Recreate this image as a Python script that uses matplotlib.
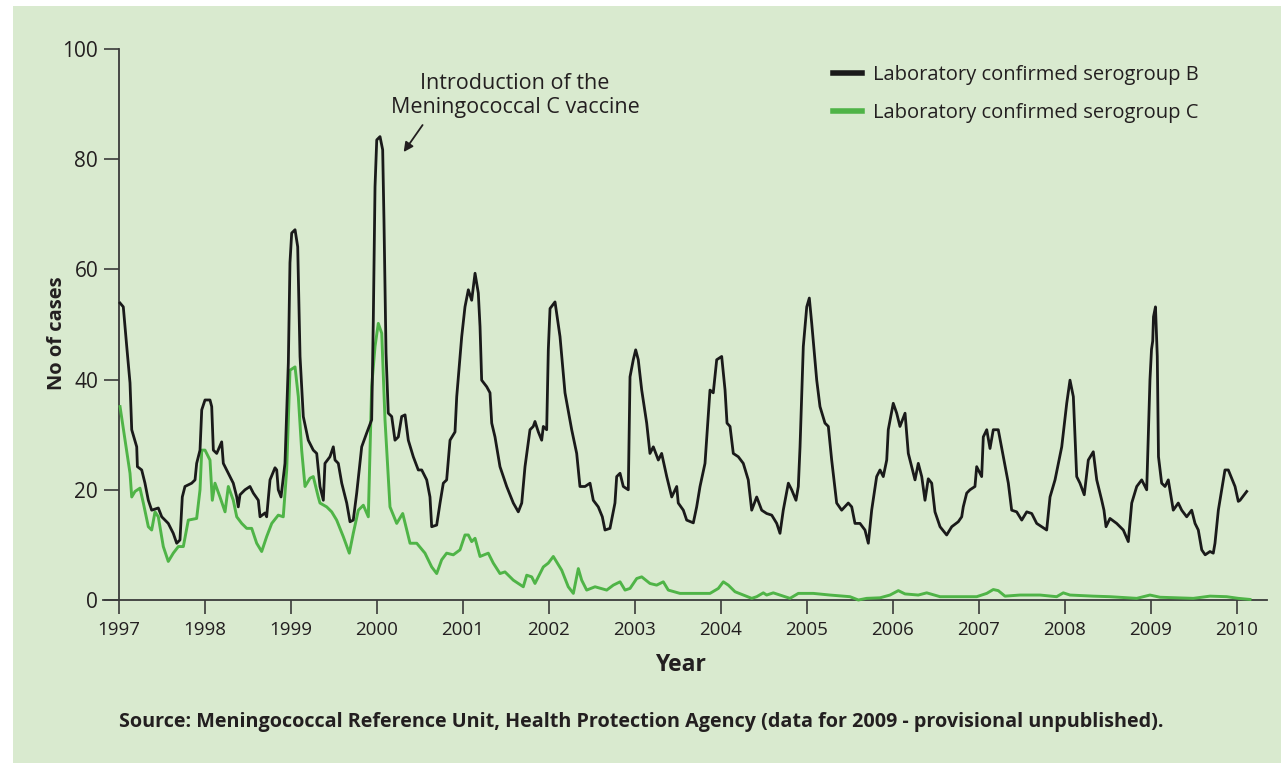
import matplotlib
matplotlib.use("Agg")
import matplotlib.pyplot as plt
from matplotlib.patches import Rectangle

# ---- data (decimal years, number of cases) ----
b_year = [1997.012, 1997.050, 1997.090, 1997.128, 1997.148, 1997.206, 1997.214, 1997.264, 1997.302, 1997.341,
          1997.380, 1997.457, 1997.497, 1997.573, 1997.631, 1997.671, 1997.709, 1997.736, 1997.767, 1997.845,
          1997.884, 1997.903, 1997.942, 1997.962, 1998.000, 1998.058, 1998.078, 1998.097, 1998.136, 1998.194,
          1998.213, 1998.271, 1998.329, 1998.369, 1998.387, 1998.407, 1998.465, 1998.523, 1998.562, 1998.620,
          1998.640, 1998.698, 1998.717, 1998.756, 1998.814, 1998.834, 1998.852, 1998.884, 1998.930, 1998.969,
          1998.988, 1999.008, 1999.047, 1999.078, 1999.105, 1999.143, 1999.201, 1999.259, 1999.299, 1999.337,
          1999.376, 1999.395, 1999.453, 1999.492, 1999.512, 1999.550, 1999.590, 1999.648, 1999.686, 1999.724,
          1999.764, 1999.822, 1999.880, 1999.938, 1999.957, 1999.977, 1999.997, 2000.035, 2000.066, 2000.081,
          2000.105, 2000.131, 2000.171, 2000.209, 2000.248, 2000.287, 2000.326, 2000.364, 2000.422, 2000.480,
          2000.520, 2000.578, 2000.616, 2000.636, 2000.694, 2000.733, 2000.771, 2000.810, 2000.849, 2000.907,
          2000.927, 2000.985, 2001.023, 2001.062, 2001.101, 2001.140, 2001.178, 2001.198, 2001.217, 2001.276,
          2001.314, 2001.334, 2001.372, 2001.430, 2001.508, 2001.585, 2001.643, 2001.683, 2001.721, 2001.779,
          2001.817, 2001.837, 2001.876, 2001.915, 2001.934, 2001.973, 2001.992, 2002.012, 2002.070, 2002.128,
          2002.186, 2002.264, 2002.322, 2002.360, 2002.419, 2002.477, 2002.515, 2002.573, 2002.620, 2002.651,
          2002.709, 2002.767, 2002.787, 2002.826, 2002.864, 2002.922, 2002.942, 2002.980, 2003.008, 2003.038,
          2003.078, 2003.136, 2003.174, 2003.213, 2003.271, 2003.310, 2003.369, 2003.427, 2003.485, 2003.503,
          2003.562, 2003.601, 2003.678, 2003.717, 2003.756, 2003.814, 2003.872, 2003.910, 2003.950, 2004.008,
          2004.047, 2004.070, 2004.105, 2004.143, 2004.201, 2004.259, 2004.317, 2004.357, 2004.415, 2004.473,
          2004.531, 2004.590, 2004.648, 2004.686, 2004.724, 2004.783, 2004.822, 2004.872, 2004.899, 2004.919,
          2004.957, 2004.997, 2005.027, 2005.055, 2005.113, 2005.151, 2005.209, 2005.248, 2005.287, 2005.345,
          2005.403, 2005.480, 2005.520, 2005.558, 2005.616, 2005.674, 2005.713, 2005.752, 2005.810, 2005.849,
          2005.887, 2005.927, 2005.945, 2006.003, 2006.043, 2006.081, 2006.140, 2006.178, 2006.256, 2006.294,
          2006.334, 2006.372, 2006.410, 2006.450, 2006.488, 2006.547, 2006.624, 2006.683, 2006.759, 2006.799,
          2006.817, 2006.857, 2006.895, 2006.953, 2006.973, 2007.031, 2007.050, 2007.090, 2007.128, 2007.166,
          2007.224, 2007.283, 2007.341, 2007.380, 2007.438, 2007.497, 2007.555, 2007.613, 2007.671, 2007.729,
          2007.787, 2007.826, 2007.884, 2007.962, 2008.020, 2008.058, 2008.097, 2008.136, 2008.174, 2008.224,
          2008.271, 2008.329, 2008.369, 2008.427, 2008.453, 2008.477, 2008.523, 2008.601, 2008.678, 2008.736,
          2008.776, 2008.834, 2008.892, 2008.950, 2008.969, 2008.988, 2009.006, 2009.020, 2009.029, 2009.052,
          2009.073, 2009.087, 2009.124, 2009.163, 2009.201, 2009.259, 2009.317, 2009.357, 2009.415, 2009.473,
          2009.512, 2009.550, 2009.590, 2009.630, 2009.686, 2009.724, 2009.744, 2009.783, 2009.822, 2009.860,
          2009.899, 2009.977, 2010.015, 2010.035, 2010.113]
b_cases = [53.9, 53.2, 46.0, 39.4, 30.9, 27.8, 24.2, 23.6, 21.2, 18.1,
           16.3, 16.7, 15.1, 13.9, 12.1, 10.3, 10.9, 18.7, 20.6, 21.2,
           21.8, 24.8, 27.2, 34.5, 36.3, 36.3, 35.1, 27.2, 26.6, 28.7,
           24.8, 23.0, 21.2, 18.7, 16.9, 19.1, 20.0, 20.6, 19.4, 18.1,
           15.1, 15.8, 15.1, 21.8, 24.0, 23.6, 20.0, 18.7, 24.8, 43.0,
           61.2, 66.6, 67.2, 64.1, 44.2, 33.3, 29.0, 27.2, 26.6, 20.6,
           18.1, 24.8, 26.0, 27.8, 25.4, 24.8, 21.2, 17.6, 14.2, 14.5,
           19.4, 27.8, 30.3, 32.7, 50.8, 75.0, 83.5, 84.1, 81.7, 69.0,
           44.8, 33.9, 33.3, 29.0, 29.6, 33.3, 33.6, 29.0, 26.0, 23.6,
           23.6, 21.8, 18.7, 13.3, 13.6, 17.6, 21.2, 21.8, 29.0, 30.5,
           36.9, 47.8, 53.2, 56.3, 54.4, 59.3, 55.7, 49.6, 39.9, 38.7,
           37.6, 32.1, 29.6, 24.2, 20.6, 17.6, 16.0, 17.6, 24.2, 30.9,
           31.5, 32.4, 30.5, 29.0, 31.5, 30.9, 45.4, 52.9, 54.1, 47.8,
           37.6, 30.9, 26.6, 20.6, 20.6, 21.2, 18.1, 16.9, 15.1, 12.7,
           13.0, 17.6, 22.4, 23.0, 20.6, 20.0, 40.5, 43.6, 45.4, 43.6,
           38.1, 32.1, 26.6, 27.8, 25.4, 26.6, 22.4, 18.7, 20.6, 17.6,
           16.3, 14.5, 14.0, 16.9, 20.6, 24.8, 38.1, 37.6, 43.6, 44.2,
           38.1, 32.1, 31.5, 26.6, 26.0, 24.8, 21.8, 16.3, 18.7, 16.3,
           15.7, 15.4, 13.9, 12.1, 16.3, 21.2, 20.0, 18.1, 20.6, 27.8,
           46.0, 53.2, 54.8, 50.2, 39.9, 35.1, 32.1, 31.5, 25.4, 17.6,
           16.3, 17.6, 16.9, 13.9, 13.9, 12.7, 10.3, 16.3, 22.4, 23.6,
           22.4, 25.4, 30.9, 35.7, 33.9, 31.5, 33.9, 26.6, 21.8, 24.8,
           22.4, 18.1, 22.0, 21.2, 16.0, 13.3, 11.8, 13.3, 14.2, 15.1,
           16.9, 19.4, 20.0, 20.6, 24.2, 22.4, 29.6, 30.9, 27.5, 30.9,
           30.9, 26.0, 21.2, 16.3, 16.0, 14.5, 16.0, 15.7, 13.9, 13.3,
           12.7, 18.7, 21.8, 27.8, 35.7, 39.9, 36.9, 22.4, 21.2, 19.1,
           25.4, 26.9, 21.8, 18.1, 16.3, 13.3, 14.8, 13.9, 12.7, 10.6,
           17.6, 20.6, 21.8, 20.0, 30.3, 40.0, 45.5, 47.0, 51.4, 53.2,
           44.2, 26.0, 21.2, 20.6, 21.8, 16.3, 17.6, 16.3, 15.1, 16.3,
           13.9, 12.7, 9.1, 8.2, 8.8, 8.5, 10.3, 16.3, 20.0, 23.6,
           23.6, 20.6, 17.9, 18.1, 19.7]

c_year = [1997.012, 1997.070, 1997.128, 1997.148, 1997.186, 1997.244, 1997.283, 1997.341, 1997.380, 1997.419,
          1997.457, 1997.515, 1997.573, 1997.631, 1997.690, 1997.748, 1997.806, 1997.903, 1997.942, 1997.962,
          1998.000, 1998.058, 1998.085, 1998.116, 1998.174, 1998.233, 1998.271, 1998.329, 1998.369, 1998.427,
          1998.485, 1998.543, 1998.601, 1998.659, 1998.717, 1998.776, 1998.852, 1998.910, 1998.950, 1998.988,
          1999.047, 1999.085, 1999.124, 1999.163, 1999.221, 1999.259, 1999.317, 1999.337, 1999.415, 1999.473,
          1999.531, 1999.608, 1999.678, 1999.724, 1999.783, 1999.841, 1999.899, 1999.938, 1999.977, 2000.015,
          2000.055, 2000.093, 2000.151, 2000.229, 2000.299, 2000.384, 2000.462, 2000.558, 2000.636, 2000.694,
          2000.752, 2000.810, 2000.887, 2000.965, 2001.023, 2001.062, 2001.101, 2001.140, 2001.198, 2001.294,
          2001.352, 2001.430, 2001.488, 2001.585, 2001.701, 2001.741, 2001.799, 2001.837, 2001.934, 2001.992,
          2002.050, 2002.148, 2002.224, 2002.283, 2002.341, 2002.380, 2002.438, 2002.535, 2002.671, 2002.748,
          2002.826, 2002.884, 2002.942, 2003.020, 2003.078, 2003.174, 2003.252, 2003.329, 2003.387, 2003.523,
          2003.717, 2003.872, 2003.969, 2004.027, 2004.085, 2004.163, 2004.259, 2004.357, 2004.415, 2004.492,
          2004.531, 2004.608, 2004.686, 2004.802, 2004.899, 2005.073, 2005.267, 2005.500, 2005.597, 2005.694,
          2005.849, 2005.965, 2006.062, 2006.140, 2006.294, 2006.392, 2006.547, 2006.779, 2006.973, 2007.090,
          2007.166, 2007.224, 2007.302, 2007.477, 2007.709, 2007.903, 2007.980, 2008.058, 2008.329, 2008.523,
          2008.834, 2008.988, 2009.105, 2009.492, 2009.686, 2009.880, 2010.015, 2010.151]
c_cases = [35.1, 29.0, 23.0, 18.7, 19.7, 20.3, 17.6, 13.3, 12.7, 16.0,
           15.1, 9.7, 7.0, 8.5, 9.7, 9.7, 14.5, 14.8, 20.0, 27.2,
           27.2, 25.4, 18.1, 21.2, 18.7, 16.0, 20.6, 18.1, 15.1, 13.9,
           13.0, 13.0, 10.3, 8.8, 11.5, 13.9, 15.4, 15.1, 23.6, 41.7,
           42.3, 36.9, 27.2, 20.6, 22.1, 22.4, 18.7, 17.6, 16.9, 16.0,
           14.5, 11.5, 8.5, 12.1, 16.3, 17.2, 15.1, 38.7, 46.0, 50.2,
           48.4, 32.7, 16.9, 13.9, 15.7, 10.3, 10.3, 8.5, 6.0, 4.8,
           7.3, 8.5, 8.2, 9.1, 11.8, 11.8, 10.6, 11.2, 7.9, 8.5,
           6.7, 4.8, 5.1, 3.6, 2.4, 4.5, 4.2, 3.0, 6.0, 6.7,
           7.9, 5.4, 2.4, 1.2, 5.7, 3.6, 1.8, 2.4, 1.8, 2.7,
           3.3, 1.8, 2.1, 3.9, 4.2, 3.0, 2.7, 3.3, 1.8, 1.2,
           1.2, 1.2, 2.1, 3.3, 2.7, 1.5, 0.9, 0.3, 0.6, 1.3,
           0.9, 1.3, 0.9, 0.3, 1.2, 1.2, 0.9, 0.6, 0.0, 0.3,
           0.4, 0.9, 1.7, 1.1, 0.9, 1.3, 0.6, 0.6, 0.6, 1.2,
           1.9, 1.7, 0.7, 0.9, 0.9, 0.6, 1.3, 0.9, 0.7, 0.6,
           0.3, 0.9, 0.5, 0.3, 0.7, 0.6, 0.3, 0.1]

year_ticks = list(range(1997, 2011))
case_ticks = [0, 20, 40, 60, 80, 100]
series_labels = ["Laboratory confirmed serogroup B", "Laboratory confirmed serogroup C"]
annotation_text = "Introduction of the\nMeningococcal C vaccine"
source_text = "Source: Meningococcal Reference Unit, Health Protection Agency (data for 2009 - provisional unpublished)."

# ---- style ----
W, H = 1281, 763
BG = "#d9eacf"
BLACK = "#1a1a1a"
GREEN = "#4fb447"
TXT = "#231f20"
AX = "#3a3a3a"
FONT = "Open Sans"

plt.rcParams["font.family"] = [FONT, "DejaVu Sans"]

fig = plt.figure(figsize=(W / 100, H / 100), dpi=100)
fig.patch.set_facecolor("white")
fig.patches.append(Rectangle((13 / W, 0), 1 - 13 / W, (H - 6) / H,
                             transform=fig.transFigure, facecolor=BG,
                             edgecolor="none", zorder=-10))

left_px, right_px, top_px, bot_px = 103, 1267, 49, 600
ax = fig.add_axes([left_px / W, 1 - bot_px / H, (right_px - left_px) / W, (bot_px - top_px) / H])
ax.set_facecolor("none")

ax.plot(c_year, c_cases, color=GREEN, lw=2.1, label=series_labels[1], zorder=3, clip_on=False)
ax.plot(b_year, b_cases, color=BLACK, lw=2.0, label=series_labels[0], zorder=4, clip_on=False)

ax.set_xlim(1997 - 16 / 86, 1997 + (right_px - 119) / 86)
ax.set_ylim(0, 100)

for s in ["top", "right"]:
    ax.spines[s].set_visible(False)
ax.spines["left"].set_position(("data", 1997))
ax.spines["left"].set_bounds(0, 100)
for s in ["left", "bottom"]:
    ax.spines[s].set_color(AX)
    ax.spines[s].set_linewidth(1.3)

ax.set_xticks(year_ticks)
ax.set_yticks(case_ticks)
ax.tick_params(axis="x", direction="out", length=10, width=1.2, color=AX,
               labelsize=13.5, labelcolor=TXT, pad=5)
ax.tick_params(axis="y", direction="out", length=11, width=1.2, color=AX,
               labelsize=15, labelcolor=TXT, pad=4)

fig.text(57 / W, 1 - 333 / H, "No of cases", rotation=90, ha="center", va="center",
         fontsize=14.5, fontweight="bold", color=TXT)
fig.text(680 / W, 1 - 665 / H, "Year", ha="center", va="center",
         fontsize=16.5, fontweight="bold", color=TXT)
fig.text(641 / W, 1 - 722 / H, source_text,
         ha="center", va="center", fontsize=14.2, fontweight="bold", color=TXT)

ax.text(2001.605, 91.6, annotation_text, ha="center", va="center",
        fontsize=15.5, color=TXT, linespacing=1.2)
ax.annotate("", xy=(2000.31, 81.3), xytext=(2000.53, 86.2), textcoords="data",
            arrowprops=dict(arrowstyle="-|>", color=TXT, lw=1.3, mutation_scale=14,
                            shrinkA=0, shrinkB=0))

handles, labels = ax.get_legend_handles_labels()
order = [1, 0]
leg = ax.legend([handles[i] for i in order], [labels[i] for i in order],
                loc="upper left",
                bbox_to_anchor=((833 - left_px) / (right_px - left_px), 1 - (65 - top_px) / (bot_px - top_px)),
                frameon=False, fontsize=14.5, handlelength=1.45, handletextpad=0.55,
                labelspacing=0.9, borderaxespad=0, borderpad=0)
for line in leg.get_lines():
    line.set_linewidth(4)
for t in leg.get_texts():
    t.set_color(TXT)

fig.savefig("out.png", dpi=100, facecolor=fig.get_facecolor())
